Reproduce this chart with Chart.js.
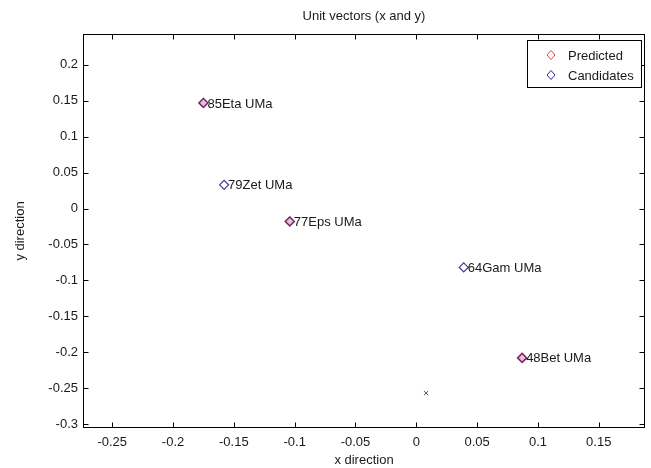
<!DOCTYPE html>
<html>
<head>
<meta charset="utf-8">
<title>Unit vectors (x and y)</title>
<script src="https://cdn.jsdelivr.net/npm/chart.js@4/dist/chart.umd.min.js"></script>
<style>
  html, body { margin: 0; padding: 0; background: #fff; }
</style>
</head>
<body>
<canvas id="vectorChart" width="651" height="468"></canvas>
<script>
// Star names and unit vector components (x, y)
const starNames = ['85Eta UMa', '79Zet UMa', '77Eps UMa', '64Gam UMa', '48Bet UMa'];
const candidateX = [-0.175, -0.158, -0.104, 0.039, 0.087];
const candidateY = [0.147, 0.033, -0.018, -0.082, -0.208];

// Stars picked out by the prediction
const predictedX = [-0.175, -0.104, 0.087];
const predictedY = [0.147, -0.018, -0.208];

// Boresight / centre marker
const centreX = [0.008];
const centreY = [-0.257];

const xTicks = [-0.25, -0.2, -0.15, -0.1, -0.05, 0, 0.05, 0.1, 0.15];
const yTicks = [-0.3, -0.25, -0.2, -0.15, -0.1, -0.05, 0, 0.05, 0.1, 0.15, 0.2];
const xRange = [-0.274, 0.188];
const yRange = [-0.3056, 0.243];

const FONT = "'Liberation Sans', Arial, Helvetica, sans-serif";
const INK = '#1a1a1a';

function toPoints(xs, ys) {
    return xs.map((x, i) => ({ x: x, y: ys[i] }));
}

// Box round the axes with tick marks pointing inwards on all four sides
const axesBox = {
    id: 'axesBox',
    afterDatasetsDraw(chart) {
        const { ctx, chartArea: a, scales } = chart;
        const L = Math.round(a.left) + 0.5, R = Math.round(a.right) - 0.5;
        const T = Math.round(a.top) + 0.5, B = Math.round(a.bottom) - 0.5;
        ctx.save();
        ctx.strokeStyle = '#000';
        ctx.lineWidth = 1;
        ctx.beginPath();
        xTicks.forEach(v => {
            const px = Math.round(scales.x.getPixelForValue(v)) + 0.5;
            ctx.moveTo(px, B); ctx.lineTo(px, B - 5);
            ctx.moveTo(px, T); ctx.lineTo(px, T + 5);
        });
        yTicks.forEach(v => {
            const py = Math.round(scales.y.getPixelForValue(v)) + 0.5;
            ctx.moveTo(L, py); ctx.lineTo(L + 5, py);
            ctx.moveTo(R, py); ctx.lineTo(R - 5, py);
        });
        ctx.stroke();
        ctx.strokeRect(L, T, R - L, B - T);

        // title centred over the axes
        ctx.fillStyle = INK;
        ctx.font = '13px ' + FONT;
        ctx.textAlign = 'center';
        ctx.textBaseline = 'middle';
        ctx.fillText('Unit vectors (x and y)', (a.left + a.right) / 2, 16);
        ctx.restore();
    }
};

// Star name written just right of each candidate marker
const starLabels = {
    id: 'starLabels',
    afterDatasetsDraw(chart) {
        const { ctx } = chart;
        const meta = chart.getDatasetMeta(1);
        ctx.save();
        ctx.fillStyle = INK;
        ctx.font = '13px ' + FONT;
        ctx.textAlign = 'left';
        ctx.textBaseline = 'middle';
        meta.data.forEach((pt, i) => {
            ctx.fillText(starNames[i], pt.x + 4, pt.y + 1);
        });
        ctx.restore();
    }
};

// Legend box in the top right corner of the axes
const boxLegend = {
    id: 'boxLegend',
    afterDraw(chart) {
        const { ctx, chartArea: a } = chart;
        const items = chart.data.datasets.filter(d => d.inLegend);
        ctx.save();
        ctx.font = '13px ' + FONT;
        const textW = Math.max(...items.map(d => ctx.measureText(d.label).width));
        const w = Math.round(textW + 48), h = 47;
        const right = Math.round(a.right) - 4;
        const left = right - w, top = Math.round(a.top) + 6;
        ctx.fillStyle = '#fff';
        ctx.fillRect(left, top, w, h);
        ctx.strokeStyle = '#000';
        ctx.lineWidth = 1;
        ctx.strokeRect(left + 0.5, top + 0.5, w, h);
        items.forEach((d, i) => {
            const y = top + 15 + i * 20;
            const mx = left + 24;
            ctx.strokeStyle = d.legendColor;
            ctx.beginPath();
            ctx.moveTo(mx - 4, y); ctx.lineTo(mx, y - 4.5);
            ctx.lineTo(mx + 4, y); ctx.lineTo(mx, y + 4.5);
            ctx.closePath();
            ctx.stroke();
            ctx.fillStyle = INK;
            ctx.textAlign = 'left';
            ctx.textBaseline = 'middle';
            ctx.fillText(d.label, left + 41, y + 1);
        });
        ctx.restore();
    }
};

new Chart(document.getElementById('vectorChart'), {
    type: 'scatter',
    data: {
        datasets: [
            {
                label: 'Predicted',
                inLegend: true,
                legendColor: '#e04a4a',
                data: toPoints(predictedX, predictedY),
                pointStyle: 'rectRot',
                pointRadius: 4.5,
                borderWidth: 1.5,
                borderColor: 'rgba(170, 0, 60, 0.55)',
                backgroundColor: 'rgba(140, 60, 140, 0.3)'
            },
            {
                label: 'Candidates',
                inLegend: true,
                legendColor: '#2a2a9a',
                data: toPoints(candidateX, candidateY),
                pointStyle: 'rectRot',
                pointRadius: 4.5,
                borderWidth: 1.2,
                borderColor: '#3d3d96',
                backgroundColor: 'rgba(0,0,0,0)'
            },
            {
                label: 'Centre',
                data: toPoints(centreX, centreY),
                pointStyle: 'crossRot',
                pointRadius: 3,
                borderWidth: 1,
                borderColor: '#555'
            }
        ]
    },
    plugins: [axesBox, starLabels, boxLegend],
    options: {
        responsive: false,
        devicePixelRatio: 1,
        animation: false,
        layout: { padding: { top: 34, right: 4, left: 0, bottom: 0 } },
        plugins: {
            legend: { display: false },
            tooltip: { enabled: false }
        },
        scales: {
            x: {
                type: 'linear',
                min: xRange[0],
                max: xRange[1],
                afterBuildTicks: s => { s.ticks = xTicks.map(v => ({ value: v })); },
                afterFit: s => { s.height = 40; },
                grid: { display: false, drawTicks: false },
                border: { display: false },
                ticks: {
                    color: INK, padding: 7, maxRotation: 0, autoSkip: false,
                    font: { family: FONT, size: 13 },
                    callback: v => String(v)
                },
                title: {
                    display: true, text: 'x direction', color: INK,
                    font: { family: FONT, size: 13 },
                    padding: { top: 0, bottom: 0 }
                }
            },
            y: {
                type: 'linear',
                min: yRange[0],
                max: yRange[1],
                afterBuildTicks: s => { s.ticks = yTicks.map(v => ({ value: v })); },
                afterFit: s => { s.width = 83; },
                grid: { display: false, drawTicks: false },
                border: { display: false },
                ticks: {
                    color: INK, padding: 5, autoSkip: false,
                    font: { family: FONT, size: 13 },
                    callback: v => String(v)
                },
                title: {
                    display: true, text: 'y direction', color: INK,
                    font: { family: FONT, size: 13 },
                    padding: { top: 13, bottom: 0 }
                }
            }
        }
    }
});
</script>
</body>
</html>
